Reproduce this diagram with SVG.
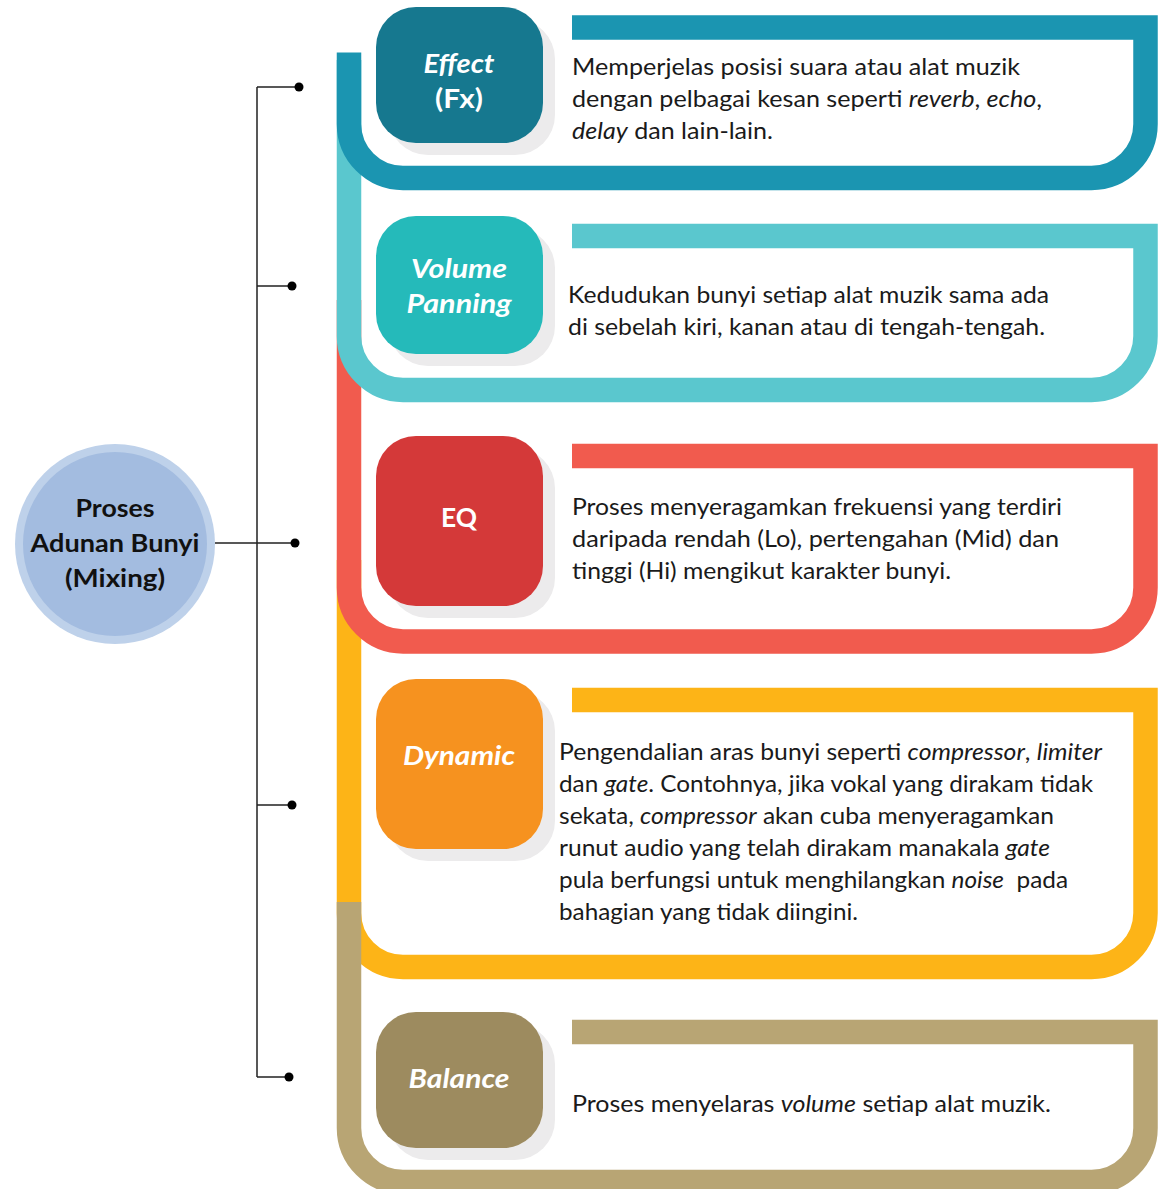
<svg xmlns="http://www.w3.org/2000/svg" width="1165" height="1189" viewBox="0 0 1165 1189">
<style>
.band{fill:none;stroke-width:24.5;stroke-linejoin:miter;stroke-linecap:butt}
.shadow{fill:#ecebec}
.lbl{font-family:Lato,"Liberation Sans",sans-serif;font-weight:bold;font-size:27px;fill:#fff;text-anchor:middle}
.it{font-style:italic}
.body{font-family:Lato,"Liberation Sans",sans-serif;font-size:24px;fill:#1a1a1a}
.ctr{font-family:Lato,"Liberation Sans",sans-serif;font-weight:bold;font-size:25px;fill:#111;text-anchor:middle}
.wire{fill:none;stroke:#222;stroke-width:1.5}
.dot{fill:#000}
</style>
<rect width="1165" height="1189" fill="#fff"/>

<g id="bands">
  <path id="band-dynamic" class="band" stroke="#fdb417" d="M572 700 H1145.5 V913 A54 54 0 0 1 1091.5 967 H403 A54 54 0 0 1 349 913 V560"/>
  <path id="band-balance" class="band" stroke="#b8a574" d="M572 1032 H1145.5 V1128 A54 54 0 0 1 1091.5 1182 H403 A54 54 0 0 1 349 1128 V902"/>
  <path id="band-eq" class="band" stroke="#f15b4e" d="M572 456 H1145.5 V587.5 A54 54 0 0 1 1091.5 641.5 H403 A54 54 0 0 1 349 587.5 V300"/>
  <path id="band-volume" class="band" stroke="#5ac7ce" d="M572 236 H1145.5 V336 A54 54 0 0 1 1091.5 390 H403 A54 54 0 0 1 349 336 V60"/>
  <path id="band-effect" class="band" stroke="#1b95b1" d="M572 27.5 H1145.5 V124 A54 54 0 0 1 1091.5 178 H403 A54 54 0 0 1 349 124 V52.5"/>
</g>

<g id="connectors">
  <path class="wire" d="M257 87 H299 M257 286 H292 M215 543 H295 M257 805 H292 M257 1077 H289 M257 87 V1077"/>
  <circle class="dot" cx="299" cy="87" r="4.5"/>
  <circle class="dot" cx="292" cy="286" r="4.5"/>
  <circle class="dot" cx="295" cy="543" r="4.5"/>
  <circle class="dot" cx="292" cy="805" r="4.5"/>
  <circle class="dot" cx="289" cy="1077" r="4.5"/>
</g>

<g id="node-center">
  <circle cx="115" cy="544" r="100" fill="#bed1ea"/>
  <circle cx="115" cy="544" r="92" fill="#a3bce0"/>
  <text class="ctr" x="115" y="517" textLength="79" lengthAdjust="spacingAndGlyphs">Proses</text>
  <text class="ctr" x="115" y="552" textLength="169" lengthAdjust="spacingAndGlyphs">Adunan Bunyi</text>
  <text class="ctr" x="115" y="587" textLength="100" lengthAdjust="spacingAndGlyphs">(Mixing)</text>
</g>

<g id="node-effect">
  <rect class="shadow" x="388" y="19" width="167" height="136" rx="40"/>
  <rect x="376" y="7" width="167" height="136" rx="40" fill="#16788f"/>
  <text class="lbl it" x="459" y="73" textLength="71" lengthAdjust="spacingAndGlyphs">Effect</text>
  <text class="lbl" x="459" y="108" textLength="48" lengthAdjust="spacingAndGlyphs">(Fx)</text>
  <text class="body" x="572" y="75" textLength="448" lengthAdjust="spacingAndGlyphs">Memperjelas posisi suara atau alat muzik</text>
  <text class="body" x="572" y="107" textLength="470" lengthAdjust="spacingAndGlyphs">dengan pelbagai kesan seperti <tspan class="it">reverb</tspan>, <tspan class="it">echo</tspan>,</text>
  <text class="body" x="572" y="139" textLength="201" lengthAdjust="spacingAndGlyphs"><tspan class="it">delay</tspan> dan lain-lain.</text>
</g>

<g id="node-volume">
  <rect class="shadow" x="388" y="228" width="167" height="138" rx="40"/>
  <rect x="376" y="216" width="167" height="138" rx="40" fill="#25baba"/>
  <text class="lbl it" x="459" y="278" textLength="96" lengthAdjust="spacingAndGlyphs">Volume</text>
  <text class="lbl it" x="459" y="313" textLength="105" lengthAdjust="spacingAndGlyphs">Panning</text>
  <text class="body" x="568" y="303" textLength="481" lengthAdjust="spacingAndGlyphs">Kedudukan bunyi setiap alat muzik sama ada</text>
  <text class="body" x="568" y="335" textLength="477" lengthAdjust="spacingAndGlyphs">di sebelah kiri, kanan atau di tengah-tengah.</text>
</g>

<g id="node-eq">
  <rect class="shadow" x="388" y="448" width="167" height="170" rx="40"/>
  <rect x="376" y="436" width="167" height="170" rx="40" fill="#d43939"/>
  <text class="lbl" x="459" y="527" textLength="36" lengthAdjust="spacingAndGlyphs">EQ</text>
  <text class="body" x="572" y="515" textLength="490" lengthAdjust="spacingAndGlyphs">Proses menyeragamkan frekuensi yang terdiri</text>
  <text class="body" x="572" y="547" textLength="487" lengthAdjust="spacingAndGlyphs">daripada rendah (Lo), pertengahan (Mid) dan</text>
  <text class="body" x="572" y="579" textLength="379" lengthAdjust="spacingAndGlyphs">tinggi (Hi) mengikut karakter bunyi.</text>
</g>

<g id="node-dynamic">
  <rect class="shadow" x="388" y="691" width="167" height="170" rx="40"/>
  <rect x="376" y="679" width="167" height="170" rx="40" fill="#f6921f"/>
  <text class="lbl it" x="459" y="765" textLength="112" lengthAdjust="spacingAndGlyphs">Dynamic</text>
  <text class="body" x="559" y="760" textLength="543" lengthAdjust="spacingAndGlyphs">Pengendalian aras bunyi seperti <tspan class="it">compressor</tspan>, <tspan class="it">limiter</tspan></text>
  <text class="body" x="559" y="792" textLength="534" lengthAdjust="spacingAndGlyphs">dan <tspan class="it">gate</tspan>. Contohnya, jika vokal yang dirakam tidak</text>
  <text class="body" x="559" y="824" textLength="495" lengthAdjust="spacingAndGlyphs">sekata, <tspan class="it">compressor</tspan> akan cuba menyeragamkan</text>
  <text class="body" x="559" y="856" textLength="491" lengthAdjust="spacingAndGlyphs">runut audio yang telah dirakam manakala <tspan class="it">gate</tspan></text>
  <text class="body" x="559" y="888" textLength="509" lengthAdjust="spacingAndGlyphs" style="white-space:pre">pula berfungsi untuk menghilangkan <tspan class="it">noise</tspan>  pada</text>
  <text class="body" x="559" y="920" textLength="299" lengthAdjust="spacingAndGlyphs">bahagian yang tidak diingini.</text>
</g>

<g id="node-balance">
  <rect class="shadow" x="388" y="1024" width="167" height="136" rx="40"/>
  <rect x="376" y="1012" width="167" height="136" rx="40" fill="#9d8b5f"/>
  <text class="lbl it" x="459" y="1088" textLength="101" lengthAdjust="spacingAndGlyphs">Balance</text>
  <text class="body" x="572" y="1112" textLength="479" lengthAdjust="spacingAndGlyphs">Proses menyelaras <tspan class="it">volume</tspan> setiap alat muzik.</text>
</g>
</svg>
